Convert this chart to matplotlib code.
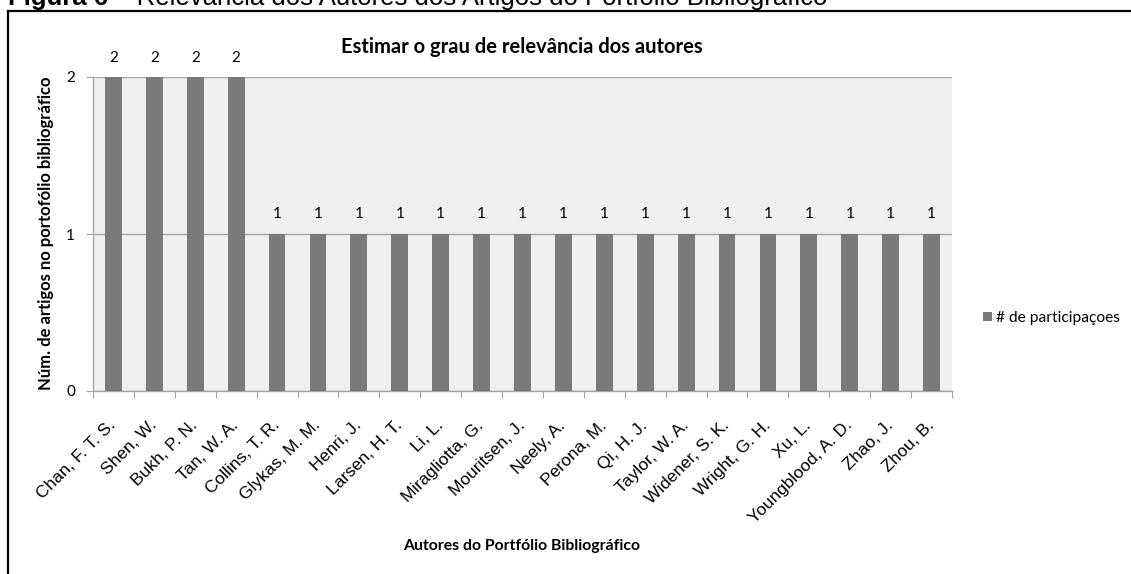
import matplotlib
matplotlib.use("Agg")
import matplotlib.pyplot as plt
from matplotlib.patches import Patch
from matplotlib.lines import Line2D

authors = ["Chan, F. T. S.", "Shen, W.", "Bukh, P. N.", "Tan, W. A.", "Collins, T. R.",
           "Glykas, M. M.", "Henri, J.", "Larsen, H. T.", "Li, L.", "Miragliotta, G.",
           "Mouritsen, J.", "Neely, A.", "Perona, M.", "Qi, H. J.", "Taylor, W. A.",
           "Widener, S. K.", "Wright, G. H.", "Xu, L.", "Youngblood, A. D.", "Zhao, J.",
           "Zhou, B."]
participations = [2, 2, 2, 2, 1, 1, 1, 1, 1, 1, 1, 1, 1, 1, 1, 1, 1, 1, 1, 1, 1]
yticks = [0, 1, 2]

title = "Estimar o grau de relevância dos autores"
ylabel = "Núm. de artigos no portofólio bibliográfico"
xlabel = "Autores do Portfólio Bibliográfico"
legend_label = "# de participaçoes"
caption_bold = "Figura 6"
caption_rest = " – Relevância dos Autores dos Artigos do Portfólio Bibliográfico"

W, H = 1131, 574
fig = plt.figure(figsize=(W / 100, H / 100), dpi=100)
fig.patch.set_facecolor("white")

# outer frame (cropped)
fig.add_artist(Line2D([8 / W, 8 / W], [0, 1 - 11 / H], transform=fig.transFigure,
                      color="black", lw=1.6))
fig.add_artist(Line2D([8 / W, 1.0], [1 - 11 / H, 1 - 11 / H], transform=fig.transFigure,
                      color="black", lw=1.6))

# cropped caption at top (only its lower part is visible, as in the reference)
renderer = fig.canvas.get_renderer()
t1 = fig.text(8 / W, 1 - 5 / H, caption_bold, fontsize=18.5, fontweight="bold",
              family="Liberation Sans", va="baseline", ha="left", color="black")
ext = t1.get_window_extent(renderer)
fig.text(ext.x1 / W, 1 - 5 / H, caption_rest, fontsize=18.5,
         family="Liberation Sans", va="baseline", ha="left", color="black")

L, R, T, B = 93, 952, 77, 391
ax = fig.add_axes([L / W, 1 - B / H, (R - L) / W, (B - T) / H])
ax.set_facecolor("#F0F0F0")

n = len(authors)
x = list(range(n))
ax.bar(x, participations, width=0.41, color="#7A7A7A", zorder=3, label=legend_label)
ax.set_xlim(-0.5, n - 0.5)
ax.set_ylim(0, 2)
ax.set_yticks(yticks)
ax.yaxis.grid(True, color="#A6A6A6", lw=1, zorder=1)
ax.set_axisbelow(True)

for s in ["top", "right"]:
    ax.spines[s].set_visible(False)
for s in ["left", "bottom"]:
    ax.spines[s].set_color("#A6A6A6")
    ax.spines[s].set_linewidth(1)

# tick marks at category boundaries
ax.set_xticks([i - 0.5 for i in range(n + 1)], minor=False)
ax.set_xticklabels([])
ax.set_xticks(x, minor=True)
ax.set_xticklabels(authors, minor=True, rotation=45, ha="right", va="center",
                   rotation_mode="anchor", fontsize=12.5, family="Liberation Sans")
ax.tick_params(axis="x", which="major", length=5, color="#A6A6A6", direction="out")
ax.tick_params(axis="x", which="minor", length=0, pad=23)
ax.tick_params(axis="y", length=5, color="#A6A6A6", labelsize=11, pad=8)
for lab in ax.get_yticklabels():
    lab.set_family("Lato")

for xi, v in zip(x, participations):
    ax.annotate(str(v), (xi, v), xytext=(0, 9), textcoords="offset points",
                ha="center", va="bottom", fontsize=11, family="Lato")

fig.text(522 / W, 1 - 47 / H, title, fontsize=14.5, fontweight="bold", family="Lato",
         ha="center", va="center")
fig.text(46 / W, 1 - 233 / H, ylabel, fontsize=12, fontweight="bold", family="Lato",
         rotation=90, ha="center", va="center")
fig.text(522 / W, 1 - 546 / H, xlabel, fontsize=11.3, fontweight="bold", family="Lato",
         ha="center", va="center")

handle = Patch(facecolor="#7A7A7A", edgecolor="none")
fig.legend([handle], [legend_label], loc="center left",
           bbox_to_anchor=(969 / W, 1 - 318 / H), frameon=False,
           handlelength=0.6, handleheight=0.6, handletextpad=0.25,
           prop={"family": "Lato", "size": 11.2})

fig.savefig("out.png", dpi=100, facecolor="white")
